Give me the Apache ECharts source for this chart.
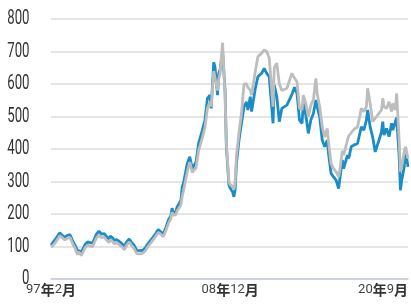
<!DOCTYPE html>
<html>
<head>
<meta charset="utf-8">
<script src="https://cdn.jsdelivr.net/npm/echarts@6/dist/echarts.min.js"></script>
<style>html,body{margin:0;padding:0;background:#fff}#c{width:411px;height:307px}</style>
</head>
<body>
<div id="c"></div>
<script>
// Dates at which values were read (monthly axis from 1997-02 to 2020-09)
const dates = ['1997-02','1997-04','1997-06','1997-09','1997-11','1998-01','1998-03','1998-05','1998-07','1998-09','1998-11','1998-12',
'1999-02','1999-05','1999-07','1999-09','1999-11','2000-02','2000-04','2000-06','2000-08','2000-10','2000-12','2001-01','2001-03','2001-04',
'2001-06','2001-08','2001-10','2001-12','2002-02','2002-04','2002-06','2002-08','2002-10','2003-01','2003-03','2003-05','2003-06','2003-08',
'2003-10','2004-01','2004-03','2004-05','2004-07','2004-09','2004-11','2005-01','2005-02','2005-03','2005-05','2005-06','2005-09','2005-10',
'2005-11','2006-02','2006-04','2006-06','2006-09','2006-11','2007-02','2007-04','2007-06','2007-08','2007-09','2007-11','2007-12','2008-02',
'2008-03','2008-04','2008-06','2008-08','2008-09','2008-11','2008-12','2009-02','2009-03','2009-04','2009-05','2009-07','2009-09','2009-11',
'2010-01','2010-02','2010-04','2010-05','2010-08','2010-10','2011-01','2011-03','2011-05','2011-07','2011-10','2011-11','2012-01','2012-03',
'2012-05','2012-09','2013-01','2013-03','2013-05','2013-07','2013-09','2013-10','2013-12','2014-02','2014-04','2014-06','2014-08','2014-09',
'2014-11','2015-01','2015-03','2015-05','2015-06','2015-08','2015-10','2015-12','2016-02','2016-03','2016-05','2016-06','2016-09','2016-10',
'2016-12','2017-02','2017-05','2017-08','2017-10','2017-12','2018-01','2018-03','2018-05','2018-07','2018-08','2018-10','2018-12','2019-01',
'2019-02','2019-04','2019-06','2019-08','2019-09','2019-11','2019-12','2020-02','2020-03','2020-04','2020-06','2020-07','2020-09'];

const blueValues = [104,115,125,142,134,129,134,137,119,104,88,92,
83,106,114,112,110,138,147,138,140,131,122,132,126,119,
121,116,110,100,114,123,112,103,88,87,89,97,104,114,
124,140,152,145,138,158,181,195,218,200,208,222,242,283,
294,355,376,340,360,417,458,489,556,566,525,667,653,566,
633,643,700,580,410,290,280,268,253,275,355,427,479,530,
545,520,561,515,587,622,633,648,633,622,479,597,561,484,
525,535,568,590,571,489,479,540,504,448,489,509,551,530,
499,427,407,427,386,325,314,304,278,309,366,340,381,371,
407,412,417,468,458,489,520,468,437,391,391,427,453,484,
443,463,438,479,458,484,497,376,273,304,345,397,345];

const grayValues = [98,105,115,133,127,120,126,128,110,95,75,84,
72,96,104,101,100,126,135,127,130,120,112,121,115,108,
112,106,100,90,104,114,103,93,78,77,80,88,95,106,
116,131,143,138,130,148,170,186,205,196,198,210,228,255,
270,330,360,328,342,395,435,465,525,545,530,640,635,580,
615,630,727,560,420,300,290,285,275,300,380,448,510,600,
600,590,581,566,640,684,695,705,700,680,530,650,664,600,
580,587,633,618,607,525,520,566,540,499,535,551,617,571,
530,468,437,463,422,355,340,330,314,335,395,381,427,440,
450,460,468,525,515,530,587,540,484,494,497,510,520,556,
530,525,545,515,540,520,571,427,330,345,390,407,370];

const labelMonths = ['1997-02','2008-12','2020-09'];
const yTickLabels = ['0','100','200','300','400','500','600','700','800'];
const yTicks = {min: 0, max: 800, interval: 100};

// monthly categories
const months = [];
for (let y = 1997, m = 2; y < 2020 || (y === 2020 && m <= 9); ) {
  months.push(y + '-' + (m < 10 ? '0' + m : '' + m));
  m++; if (m > 12) { m = 1; y++; }
}

const pair = (vals) => dates.map((d, i) => [d, vals[i]]);

const chart = echarts.init(document.getElementById('c'), null, {renderer: 'canvas'});
chart.setOption({
  animation: false,
  grid: {left: 51, right: 0, top: 19, bottom: 28, containLabel: false},
  xAxis: {
    type: 'category', data: months, boundaryGap: false,
    axisTick: {show: false},
    axisLine: {lineStyle: {color: '#c5cdd9', width: 1.5}},
    splitLine: {show: false},
    axisLabel: {
      interval: (i, v) => labelMonths.indexOf(v) >= 0,
      formatter: (v) => { const p = v.split('-'); return '{n|' + p[0].slice(2) + '}{c|年}{n|' + parseInt(p[1], 10) + '}{c|月}'; },
      alignMaxLabel: 'right',
      margin: 4,
      rich: {
        n: {fontSize: 13, fontFamily: 'Roboto', color: '#444'},
        c: {fontSize: 14, fontWeight: 'bold', fontFamily: "'Noto Sans CJK JP'", color: '#333'}
      }
    }
  },
  yAxis: {
    type: 'value', min: yTicks.min, max: yTicks.max, interval: yTicks.interval,
    axisLine: {show: false}, axisTick: {show: false},
    splitLine: {lineStyle: {color: '#dcdcdc', width: 1.5}},
    axisLabel: {show: false}
  },
  series: [
    {type: 'line', data: pair(blueValues), symbol: 'none', lineStyle: {color: '#1a8dc8', width: 2.8}, itemStyle: {color: '#1a8dc8'}},
    {type: 'line', data: pair(grayValues), symbol: 'none', lineStyle: {color: '#bdbdbd', width: 2.8}, itemStyle: {color: '#bdbdbd'}}
  ]
});

// condensed y-axis tick labels, positioned through the axis scale
const gridLeft = chart.convertToPixel({xAxisIndex: 0}, months[0]);
chart.setOption({
  graphic: yTickLabels.map((t) => ({
    type: 'text',
    x: gridLeft - 21.5,
    y: chart.convertToPixel({yAxisIndex: 0}, Number(t)),
    scaleX: 0.66,
    style: {text: t, align: 'right', verticalAlign: 'middle', font: '20px Roboto', fill: '#333'}
  }))
});
</script>
</body>
</html>
